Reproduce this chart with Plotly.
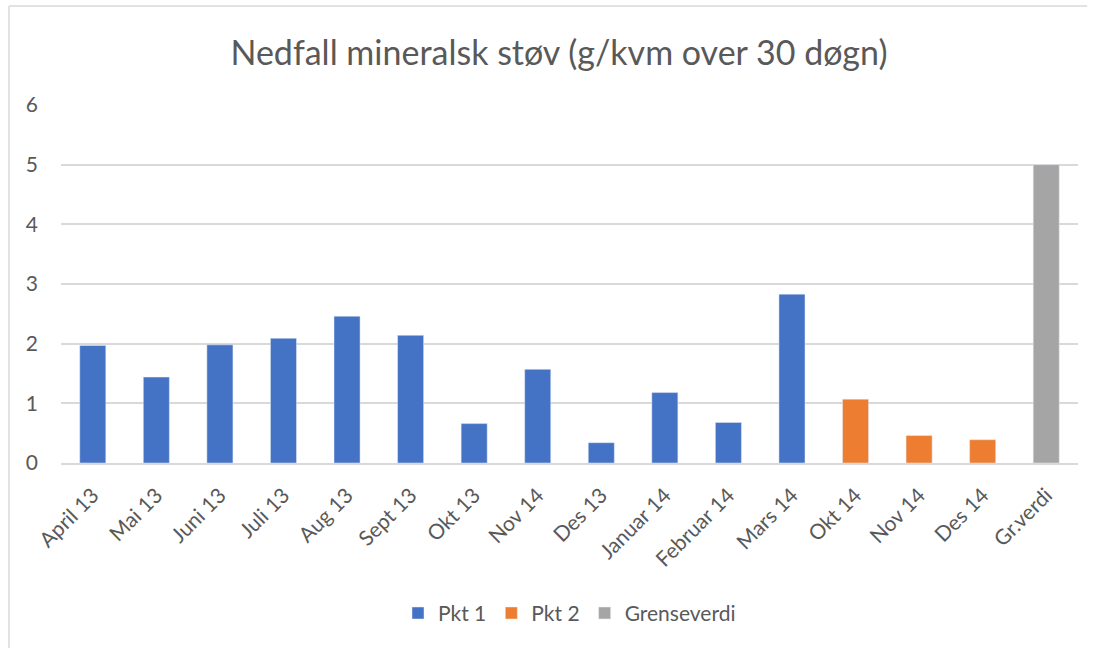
import plotly.graph_objects as go

# Monthly dust fall (g/kvm over 30 døgn) per measuring point
categories = ["April 13", "Mai 13", "Juni 13", "Juli 13", "Aug 13", "Sept 13",
              "Okt 13", "Nov 14", "Des 13", "Januar 14", "Februar 14", "Mars 14",
              "Okt 14", "Nov 14", "Des 14", "Gr.verdi"]
pkt1_values = [1.97, 1.44, 1.98, 2.09, 2.46, 2.14, 0.66, 1.57, 0.34, 1.18, 0.68, 2.83]
pkt2_values = [1.07, 0.46, 0.39]
grense_values = [5.0]
y_ticks = [0, 1, 2, 3, 4, 5, 6]

# Positions on the category axis (labels repeat, so use indices)
pkt1_x = list(range(0, 12))
pkt2_x = list(range(12, 15))
grense_x = [15]

TEXT = "#595959"
GRID = "#D9D9D9"
FONT = "Lato"

fig = go.Figure()
fig.add_trace(go.Bar(x=pkt1_x, y=pkt1_values, name="Pkt 1",
                     marker_color="#4472C4", width=0.41))
fig.add_trace(go.Bar(x=pkt2_x, y=pkt2_values, name="Pkt 2",
                     marker_color="#ED7D31", width=0.41))
fig.add_trace(go.Bar(x=grense_x, y=grense_values, name="Grenseverdi",
                     marker_color="#A5A5A5", width=0.41))

fig.update_layout(
    width=1095, height=648,
    margin=dict(l=61, r=17, t=105, b=185),
    paper_bgcolor="white", plot_bgcolor="white",
    barmode="overlay",
    font=dict(family=FONT, color=TEXT, size=21),
    title=dict(text="Nedfall mineralsk støv (g/kvm over 30 døgn)",
               xref="container", x=0.5105, xanchor="center", y=0.918, yanchor="middle",
               font=dict(family=FONT, size=34, color=TEXT)),
    showlegend=True,
    legend=dict(orientation="h", x=0.5, xanchor="center", y=-0.42, yanchor="middle",
                font=dict(size=21, color=TEXT), traceorder="normal",
                itemwidth=30),
    xaxis=dict(range=[-0.5, 15.5], tickmode="array", tickvals=list(range(len(categories))),
               ticktext=categories, tickangle=-45, showgrid=False, zeroline=False,
               showline=True, linecolor=GRID, linewidth=1.5,
               tickfont=dict(size=21, color=TEXT), ticklabelstandoff=10),
    yaxis=dict(range=[0, 6], tickmode="array", tickvals=y_ticks,
               showgrid=True, gridcolor=GRID, gridwidth=1.5, zeroline=False,
               showline=False, tickfont=dict(size=21, color=TEXT),
               ticklabelstandoff=22),
)

# Chart frame
fig.add_shape(type="line", xref="paper", yref="paper",
              x0=-0.0511, x1=-0.0511, y0=-0.6, y1=1.2765,
              line=dict(color=GRID, width=1.5))
fig.add_shape(type="line", xref="paper", yref="paper",
              x0=-0.0511, x1=1.0089, y0=1.2765, y1=1.2765,
              line=dict(color=GRID, width=1.5))

fig.write_html("out.html")
